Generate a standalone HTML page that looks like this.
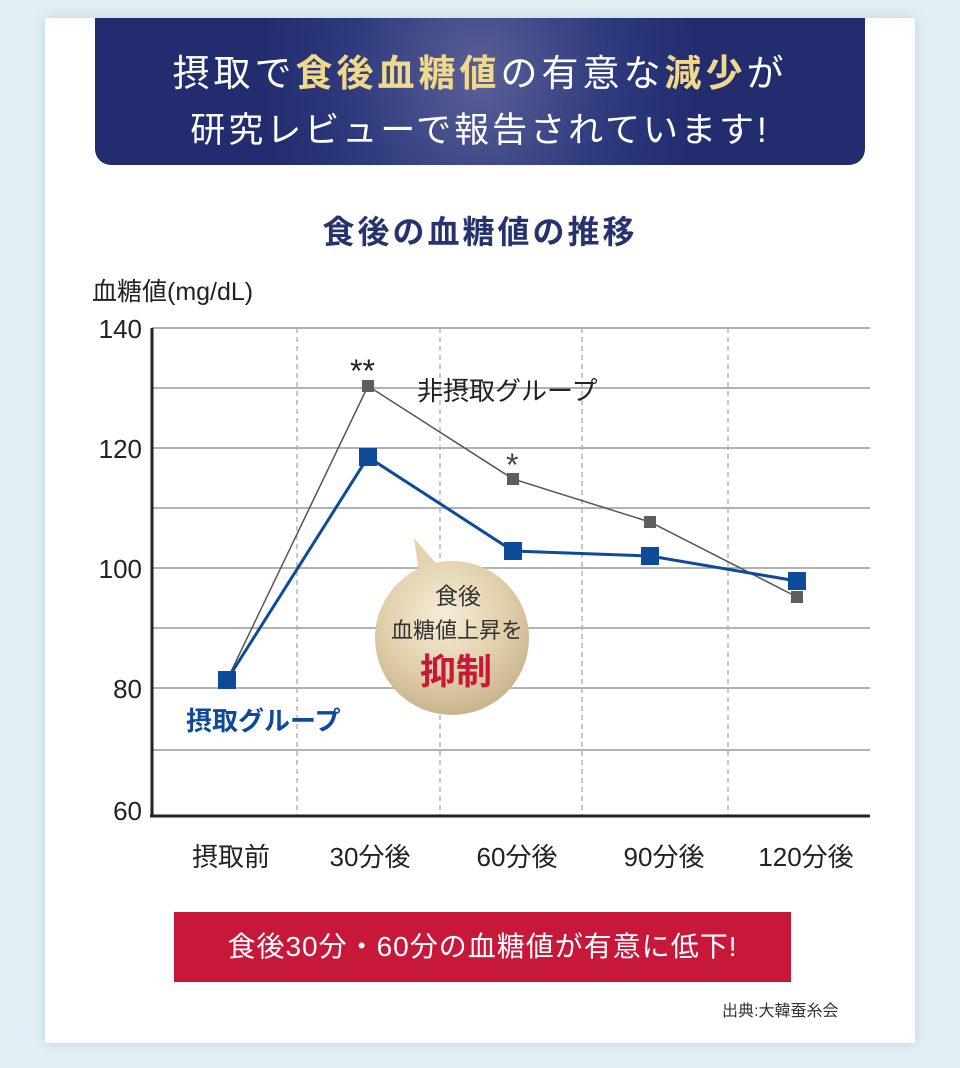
<!DOCTYPE html>
<html><head><meta charset="utf-8"><style>
body{margin:0;width:960px;height:1068px;background:#e2f0f5;font-family:"Liberation Sans","Noto Sans CJK JP",sans-serif;position:relative;overflow:hidden}
.card{position:absolute;left:45px;top:18px;width:870px;height:1025px;background:#fff;box-shadow:0 0 12px rgba(150,190,205,.5)}
.hdr{position:absolute;left:95px;top:18px;width:770px;height:147px;border-radius:0 0 16px 16px;background:radial-gradient(ellipse 220px 260px at 50% 40%,#5a6098 0%,#2e3a7c 60%,#222c6e 100%);color:#fff;text-align:center;font-size:37px;letter-spacing:4px}
.hdr .l1{position:absolute;top:25px;width:100%}
.hdr .l2{position:absolute;top:84px;width:100%;font-size:35px;letter-spacing:3px}
.g{color:#f0d98a;font-weight:bold}
svg{position:absolute;left:0;top:0}
.red{position:absolute;left:174px;top:912px;width:617px;height:70px;background:#c8183a;color:#fff;font-size:28px;text-align:center;line-height:70px;letter-spacing:1px}
.src{position:absolute;left:722px;top:997px;font-size:16px;color:#333}
</style></head><body>
<div class="card"></div>
<div class="hdr"><div class="l1">摂取で<span class="g">食後血糖値</span>の有意な<span class="g">減少</span>が</div><div class="l2">研究レビューで報告されています!</div></div>
<svg width="960" height="1068" font-family="Liberation Sans, Noto Sans CJK JP, sans-serif">
<defs><radialGradient id="bg" cx="45%" cy="35%" r="65%"><stop offset="0" stop-color="#f6ecd8"/><stop offset="0.6" stop-color="#e2d0ac"/><stop offset="1" stop-color="#c9b48c"/></radialGradient></defs>
<text x="480" y="243" text-anchor="middle" font-size="32" font-weight="bold" fill="#27336f" letter-spacing="3">食後の血糖値の推移</text>
<text x="92" y="300" font-size="25" fill="#222">血糖値(mg/dL)</text>
<g stroke="#999" stroke-width="1.5">
<line x1="152" y1="328" x2="870" y2="328"/><line x1="152" y1="388" x2="870" y2="388"/><line x1="152" y1="448" x2="870" y2="448"/><line x1="152" y1="508" x2="870" y2="508"/><line x1="152" y1="568" x2="870" y2="568"/><line x1="152" y1="628" x2="870" y2="628"/><line x1="152" y1="688" x2="870" y2="688"/><line x1="152" y1="750" x2="870" y2="750"/>
</g>
<g stroke="#aaa" stroke-width="1.3" stroke-dasharray="5,4"><line x1="297" y1="328" x2="297" y2="815"/><line x1="440" y1="328" x2="440" y2="815"/><line x1="582" y1="328" x2="582" y2="815"/><line x1="728" y1="328" x2="728" y2="815"/></g>
<line x1="152" y1="328" x2="152" y2="817" stroke="#222" stroke-width="3"/>
<line x1="150" y1="816" x2="870" y2="816" stroke="#222" stroke-width="3"/>
<g font-size="26" fill="#222" text-anchor="end"><text x="142" y="338">140</text><text x="142" y="458">120</text><text x="142" y="578">100</text><text x="142" y="698">80</text><text x="142" y="820">60</text></g>
<g font-size="26" fill="#222" text-anchor="middle"><text x="231" y="866">摂取前</text><text x="370" y="866">30分後</text><text x="517" y="866">60分後</text><text x="664" y="866">90分後</text><text x="806" y="866">120分後</text></g>
<polyline points="227,680 368,386 513,479 650,522 797,597" fill="none" stroke="#555" stroke-width="1.5"/>
<g fill="#5e5e5e"><rect x="362" y="380" width="12" height="12"/><rect x="507" y="473" width="12" height="12"/><rect x="644" y="516" width="12" height="12"/><rect x="791" y="591" width="12" height="12"/></g>
<polyline points="227,680 368,457 513,551 650,556 797,581" fill="none" stroke="#0e4a9a" stroke-width="3"/>
<g fill="#0e4a9a"><rect x="218" y="671" width="18" height="18"/><rect x="359" y="448" width="18" height="18"/><rect x="504" y="542" width="18" height="18"/><rect x="641" y="547" width="18" height="18"/><rect x="788" y="572" width="18" height="18"/></g>
<text x="350" y="382" font-size="32" fill="#222">**</text>
<text x="506" y="476" font-size="32" fill="#444">*</text>
<text x="417" y="400" font-size="26" fill="#222">非摂取グループ</text>
<text x="186" y="730" font-size="26" font-weight="bold" fill="#0e4a9a">摂取グループ</text>
<path d="M414,538 L440,568 L420,580 Z" fill="#e4d3b0"/>
<circle cx="452" cy="638" r="77" fill="url(#bg)"/>
<text x="458" y="604" font-size="23" fill="#333" text-anchor="middle">食後</text>
<text x="457" y="638" font-size="22" fill="#333" text-anchor="middle">血糖値上昇を</text>
<text x="456" y="684" font-size="36" font-weight="bold" fill="#c8183a" text-anchor="middle">抑制</text>
</svg>
<div class="red">食後30分・60分の血糖値が有意に低下!</div>
<div class="src">出典:大韓蚕糸会</div>
</body></html>
